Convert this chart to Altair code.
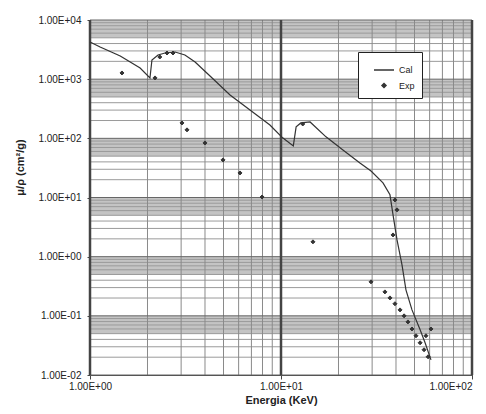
import altair as alt
import pandas as pd

# ---- data ----
cal_energy = [1.00, 1.13, 1.44, 1.83, 2.06, 2.11, 2.27, 2.47, 2.79, 3.14, 3.55, 4.25, 5.41, 6.88,
              8.75, 10.2, 11.6, 12.0, 12.7, 14.2, 17.2, 21.1, 25.9, 29.6, 34.2, 37.2, 38.6,
              40.5, 43.0, 45.1, 48.5, 53.5, 56.8, 61.0]
cal_mu = [4250, 3500, 2470, 1545, 1047, 2110, 2560, 2770, 2880, 2560, 1950, 1130, 541, 302,
          168, 102, 74.5, 156, 182, 189, 106, 63.7, 38.4, 28.1, 17.7, 11.1, 5.08,
          1.92, 0.727, 0.275, 0.126, 0.058, 0.035, 0.018]

exp_energy = [1.47, 2.19, 2.32, 2.53, 2.72, 3.03, 3.22, 4.00, 4.97, 6.10, 7.96, 13.0, 14.7,
              29.6, 39.5, 40.5, 38.6, 35.0, 37.2, 39.5, 42.0, 44.1, 46.2, 48.5, 50.9, 53.5,
              56.1, 58.9, 57.4, 61.0]
exp_mu = [1273, 1050, 2370, 2770, 2770, 182, 139, 83.6, 43.2, 26.0, 10.2, 175, 1.78,
          0.375, 9.1, 6.18, 2.33, 0.254, 0.201, 0.160, 0.126, 0.100, 0.079, 0.060, 0.046, 0.035,
          0.0267, 0.0203, 0.046, 0.060]

x_major = [1, 10, 100]
y_major = [0.01, 0.1, 1, 10, 100, 1000, 10000]
minor_mult = [2, 3, 4, 5, 6, 7, 8, 9]
x_minor = [m * d for d in x_major[:-1] for m in minor_mult]
y_minor = [m * d for d in y_major[:-1] for m in minor_mult]
band_top = [0.1, 1, 10, 100, 1000, 10000]
band_bottom = [0.05, 0.5, 5, 50, 500, 5000]
series = ["Cal", "Exp"]

cal = pd.DataFrame({"E": cal_energy, "mu": cal_mu})
exp = pd.DataFrame({"E": exp_energy, "mu": exp_mu, "serie": "Exp"})
bands = pd.DataFrame({"lo": band_bottom, "hi": band_top})
xmin = pd.DataFrame({"E": x_minor})
ymin = pd.DataFrame({"mu": y_minor})
xmaj = pd.DataFrame({"E": x_major})
ymaj = pd.DataFrame({"mu": y_major})

xs = alt.Scale(type="log", domain=[1, 100])
ys = alt.Scale(type="log", domain=[0.01, 10000])

lab = ("'1.00E' + (log(datum.value)/LN10 < -0.5 ? '-' : '+') + '0' + "
       "abs(round(log(datum.value)/LN10))")

x_axis = alt.Axis(values=x_major, labelExpr=lab, grid=False, tickSize=4, labelFlush=False,
                  labelAlign=alt.ConditionalAxisLabelAlign(
                      condition={"test": "datum.value >= 100", "value": "right"},
                      value="center"),
                  labelPadding=2, title="Energia (KeV)", titleFontSize=11,
                  titleFontWeight="bold", titleY=25, titleBaseline="middle")
y_axis = alt.Axis(values=y_major, labelExpr=lab, grid=False, tickSize=3, labelFlush=False,
                  labelPadding=6, title="μ/ρ (cm²/g)", titleFontSize=11,
                  titleFontWeight="bold", titleX=-70, titleY=147,
                  titleBaseline="middle")

band_layer = alt.Chart(bands).mark_rect(color="#c4c4c4").encode(
    y=alt.Y("lo:Q", scale=ys, axis=y_axis), y2="hi:Q")

vminor = alt.Chart(xmin).mark_rule(color="#8a8a8a", strokeWidth=1).encode(
    x=alt.X("E:Q", scale=xs, axis=x_axis))
hminor = alt.Chart(ymin).mark_rule(color="#9a9a9a", strokeWidth=1).encode(
    y=alt.Y("mu:Q", scale=ys, axis=y_axis))
vmajor = alt.Chart(xmaj).mark_rule(color="#444444", strokeWidth=2.5).encode(
    x=alt.X("E:Q", scale=xs, axis=x_axis))
hmajor = alt.Chart(ymaj).mark_rule(color="#666666", strokeWidth=1).encode(
    y=alt.Y("mu:Q", scale=ys, axis=y_axis))

cal_line = alt.Chart(cal).mark_line(color="#333333", strokeWidth=1.2).encode(
    x=alt.X("E:Q", scale=xs, axis=x_axis),
    y=alt.Y("mu:Q", scale=ys, axis=y_axis),
)

exp_pts = alt.Chart(exp).mark_point(filled=True, color="#333333", stroke="#333333",
                                    strokeWidth=1, opacity=1).encode(
    x=alt.X("E:Q", scale=xs, axis=x_axis),
    y=alt.Y("mu:Q", scale=ys, axis=y_axis),
    shape=alt.Shape("serie:N", scale=alt.Scale(domain=series, range=["stroke", "diamond"]),
                    legend=alt.Legend(title=None, orient="none", legendX=268, legendY=32,
                                      strokeColor="#222222", fillColor="white", padding=7,
                                      symbolOffset=8, labelFontSize=9, rowPadding=5,
                                      labelOffset=4)),
    size=alt.Size("serie:N", scale=alt.Scale(domain=series, range=[400, 16]),
                  legend=alt.Legend(title=None, orient="none", legendX=268, legendY=32)),
)

chart = alt.layer(band_layer, hminor, vminor, hmajor, vmajor, cal_line, exp_pts).properties(
    width=382, height=355,
    padding={"left": 82, "top": 12, "right": 6, "bottom": 31},
    autosize=alt.AutoSizeParams(type="none"),
).configure_view(stroke="#444444", strokeWidth=1).configure_axis(
    labelFont="Liberation Sans", titleFont="Liberation Sans", labelFontSize=10,
    labelColor="#222222", titleColor="#222222", domainColor="#444444", tickColor="#444444",
).configure_legend(labelFont="Liberation Sans", labelColor="#222222")

chart.save("out.html", embed_options={"renderer": "svg", "actions": False})
